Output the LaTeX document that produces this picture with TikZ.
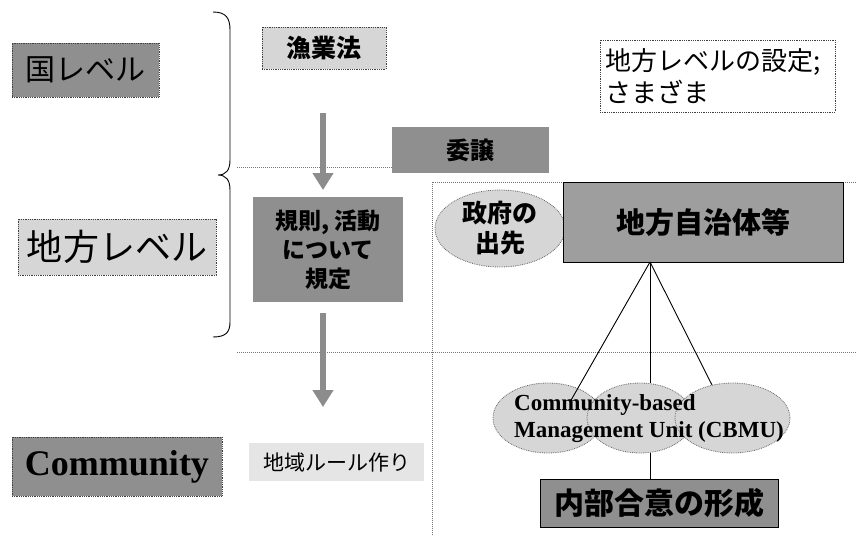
\documentclass[tikz,border=0pt]{standalone}
\usepackage{fontspec}
\setmainfont{Liberation Serif}
\newfontfamily\jp{Noto Sans CJK JP}
\usetikzlibrary{arrows.meta,shapes.geometric}
\definecolor{dk}{gray}{0.56}
\definecolor{md}{gray}{0.62}
\definecolor{lt}{gray}{0.84}
\definecolor{vlt}{gray}{0.90}
\begin{document}
\begin{tikzpicture}[x=1pt,y=-1pt,
  lbox/.style={draw=black!75, densely dotted, line width=0.8pt, inner sep=0pt, anchor=center},
  sbox/.style={draw=black, solid, line width=0.8pt, inner sep=0pt, anchor=center},
  nobox/.style={inner sep=0pt, anchor=center},
  sep/.style={draw=black!55, densely dotted, line width=1pt},
  bigarrow/.style={line width=6pt, draw=black!45, -{Triangle[width=20pt,length=17pt]}},
  link/.style={draw=black, line width=0.9pt},
  cbmu/.style={ellipse, draw=black!60, densely dotted, line width=0.8pt, fill=lt, inner sep=0pt, anchor=center}
]
\useasboundingbox[fill=white] (0,0) rectangle (856,536);

% separators
\coordinate (s1a) at (237,167);
\coordinate (s1b) at (392,167);
\coordinate (s2a) at (432,182);
\coordinate (s2b) at (856,182);
\coordinate (s3a) at (237,352);
\coordinate (s3b) at (856,352);
\coordinate (s4b) at (432,536);
\draw[sep] (s1a) -- (s1b);
\draw[sep] (s2b) -- (s2a) -- (s4b);
\draw[sep] (s3a) -- (s3b);

% brace
\draw[line width=0.9pt] (213,12) .. controls (226,12) and (230,18) .. (230,30) -- (230,160)
  .. controls (230,170) and (226,175) .. (218,175)
  .. controls (226,175) and (230,180) .. (230,190) -- (230,322)
  .. controls (230,332) and (226,337) .. (213,337);

% left level labels
\node[lbox, fill=dk, minimum width=147pt, minimum height=54pt, font=\jp\fontsize{30}{36}\selectfont] (kuni) at (85.5,70) {国レベル};
\node[lbox, fill=lt, minimum width=198pt, minimum height=56pt, font=\jp\fontsize{36}{42}\selectfont] (chiho) at (117,247) {地方レベル};
\node[lbox, fill=dk, minimum width=210pt, minimum height=59pt, font=\bfseries\fontsize{36}{42}\selectfont] (comm) at (117,466.5) {Community};

% centre column
\node[lbox, fill=lt, minimum width=124pt, minimum height=42pt, font=\jp\bfseries\fontsize{25}{30}\selectfont] (gyogyo) at (324,48) {漁業法};
\node[lbox, fill=dk, draw=none, minimum width=157pt, minimum height=46pt, font=\jp\bfseries\fontsize{24}{30}\selectfont] (ijo) at (470.5,150) {委譲};
\node[lbox, fill=dk, draw=none, minimum width=150pt, minimum height=105pt, align=center, font=\jp\bfseries\fontsize{23}{29}\selectfont] (kisoku) at (328,249.5) {規則, 活動\\について\\規定};
\node[nobox, fill=vlt, minimum width=175pt, minimum height=38pt, font=\jp\fontsize{21}{26}\selectfont] (chiiki) at (336.5,462) {地域ルール作り};

\coordinate (a1s) at (323,113);
\coordinate (a1e) at (323,190);
\coordinate (a2s) at (323,313);
\coordinate (a2e) at (323,407);
\draw[bigarrow] (a1s) -- (a1e);
\draw[bigarrow] (a2s) -- (a2e);

% right part
\node[lbox, fill=white, minimum width=235pt, minimum height=72pt, align=left, text width=224pt, font=\jp\fontsize{26}{32}\selectfont] (settei) at (717.5,76) {地方レベルの設定;\\さまざま};
\node[ellipse, draw=black!60, densely dotted, line width=0.8pt, fill=lt, inner sep=0pt, minimum width=130pt, minimum height=77pt, align=center, font=\jp\bfseries\fontsize{25}{30}\selectfont] (seifu) at (500,228.5) {政府の\\出先};
\node[sbox, fill=md, minimum width=280pt, minimum height=80pt, font=\jp\bfseries\fontsize{29}{34}\selectfont] (jichitai) at (703,222) {地方自治体等};

\node[cbmu, minimum width=110pt, minimum height=70pt] (e1) at (548,418) {};
\node[cbmu, minimum width=106pt, minimum height=70pt] (e2) at (640,418) {};
\node[cbmu, minimum width=115pt, minimum height=70pt] (e3) at (732.5,418) {};

\coordinate (jb) at (650,262);
\coordinate (l1) at (570,402);
\coordinate (l2) at (650,383);
\coordinate (l3) at (712,385);
\draw[link] (jb) -- (l1);
\draw[link] (jb) -- (l2);
\draw[link] (jb) -- (l3);

\node[nobox, anchor=west, align=left, font=\bfseries\fontsize{23}{27}\selectfont] (cbmutext) at (514,419) {Community-based\\Management Unit (CBMU)};

\node[sbox, fill=dk, minimum width=238pt, minimum height=48pt, font=\jp\bfseries\fontsize{30}{36}\selectfont] (naibu) at (659,503) {内部合意の形成};
\coordinate (eb) at (650,453);
\draw[link] (eb) -- (naibu.north -| eb);
\end{tikzpicture}
\end{document}
